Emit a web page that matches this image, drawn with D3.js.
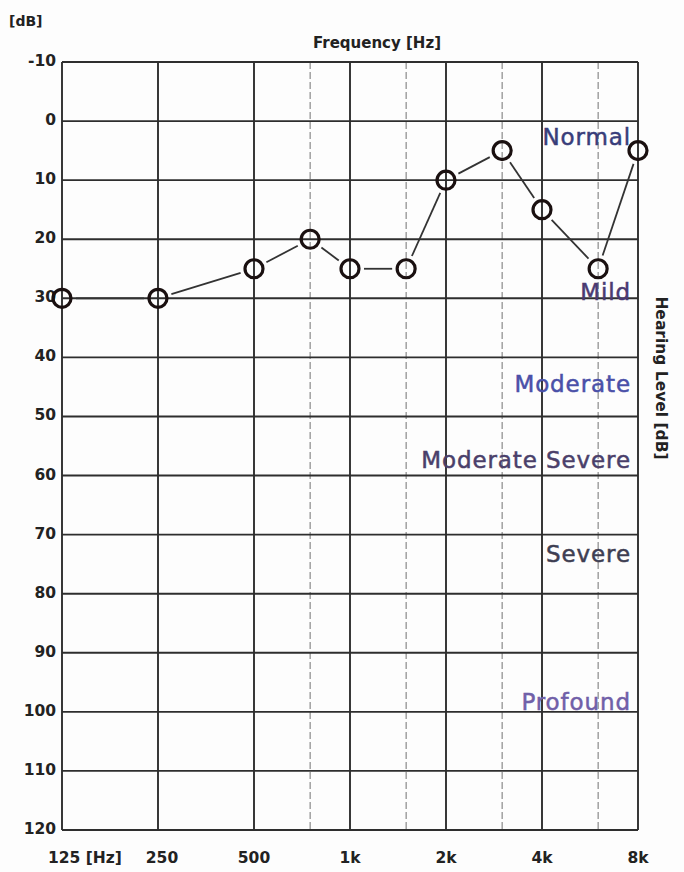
<!DOCTYPE html>
<html>
<head>
<meta charset="utf-8">
<script src="https://cdn.jsdelivr.net/npm/d3@7"></script>
<style>
  html, body { margin: 0; padding: 0; background: #fdfdfd; }
  svg { display: block; }
</style>
</head>
<body>
<svg id="chart" width="684" height="872"></svg>
<script>
// ---- data ----
const freqs = [125, 250, 500, 750, 1000, 1500, 2000, 3000, 4000, 6000, 8000];
const levels = [30, 30, 25, 20, 25, 25, 10, 5, 15, 25, 5];
const majorFreqs = [125, 250, 500, 1000, 2000, 4000, 8000];
const minorFreqs = [750, 1500, 3000, 6000];
const freqLabels = ["125 [Hz]", "250", "500", "1k", "2k", "4k", "8k"];
const dbTicks = [-10, 0, 10, 20, 30, 40, 50, 60, 70, 80, 90, 100, 110, 120];
const categories = ["Normal", "Mild", "Moderate", "Moderate Severe", "Severe", "Profound"];
const categoryLevels = [4, 30.3, 45.9, 58.7, 74.6, 99.7];
const categoryColors = ["#383d7a", "#4a3a72", "#4a50a8", "#4a3f6a", "#3e3e52", "#7060a8"];

// ---- layout ----
const svg = d3.select("#chart");
const pLeft = 62, pRight = 638, pTop = 62, pBottom = 830;
const tickFont = "DejaVu Sans, Verdana, sans-serif";

const x = d3.scaleLog().base(2).domain([125, 8000]).range([pLeft, pRight]);
const y = d3.scaleLinear().domain([-10, 120]).range([pTop, pBottom]);

// minor vertical grid
svg.append("g").selectAll("line").data(minorFreqs).join("line")
  .attr("x1", d => x(d)).attr("x2", d => x(d))
  .attr("y1", pTop).attr("y2", pBottom)
  .attr("stroke", "#8a8a8a").attr("stroke-width", 1.2)
  .attr("stroke-dasharray", "7,3");

// horizontal grid
svg.append("g").selectAll("line").data(dbTicks).join("line")
  .attr("x1", pLeft).attr("x2", pRight)
  .attr("y1", d => y(d)).attr("y2", d => y(d))
  .attr("stroke", "#2e2e2e").attr("stroke-width", 1.9);

// major vertical grid
svg.append("g").selectAll("line").data(majorFreqs).join("line")
  .attr("x1", d => x(d)).attr("x2", d => x(d))
  .attr("y1", pTop).attr("y2", pBottom)
  .attr("stroke", "#2e2e2e").attr("stroke-width", 1.9);

// y tick labels
svg.append("g").selectAll("text").data(dbTicks).join("text")
  .attr("x", 56).attr("y", d => y(d) + 4)
  .attr("text-anchor", "end")
  .attr("font-family", tickFont)
  .attr("font-weight", "bold").attr("font-size", 15.5)
  .attr("fill", "#222")
  .text(d => d);

// x tick labels
svg.append("g").selectAll("text").data(majorFreqs).join("text")
  .attr("x", (d, i) => i === 0 ? x(d) - 14 : x(d) + (i === 1 ? 4 : 0))
  .attr("y", 863)
  .attr("text-anchor", (d, i) => i === 0 ? "start" : "middle")
  .attr("font-family", tickFont)
  .attr("font-weight", "bold").attr("font-size", 15.5)
  .attr("fill", "#222")
  .text((d, i) => freqLabels[i]);

// titles
svg.append("text").attr("x", 9).attr("y", 26)
  .attr("font-family", tickFont)
  .attr("font-weight", "bold").attr("font-size", 14).attr("fill", "#222")
  .text("[dB]");
svg.append("text").attr("x", 377).attr("y", 48)
  .attr("text-anchor", "middle")
  .attr("font-family", tickFont)
  .attr("font-weight", "bold").attr("font-size", 15).attr("fill", "#222")
  .text("Frequency [Hz]");
svg.append("text")
  .attr("transform", "translate(656,378) rotate(90)")
  .attr("text-anchor", "middle")
  .attr("font-family", tickFont)
  .attr("font-weight", "bold").attr("font-size", 15.5).attr("fill", "#222")
  .text("Hearing Level [dB]");

// category labels
svg.append("g").selectAll("text").data(categories).join("text")
  .attr("x", 631)
  .attr("y", (d, i) => y(categoryLevels[i]))
  .attr("text-anchor", "end")
  .attr("font-family", "DejaVu Sans, Verdana, sans-serif")
  .attr("font-size", 23)
  .attr("letter-spacing", 0.9)
  .attr("fill", (d, i) => categoryColors[i])
  .attr("stroke", (d, i) => categoryColors[i])
  .attr("stroke-width", 0.5)
  .text(d => d);

// connecting segments with gaps at circles
const pts = freqs.map((f, i) => [x(f), y(levels[i])]);
const r = 9, gap = 14;
const segs = d3.pairs(pts).map(([a, b]) => {
  const dx = b[0] - a[0], dy = b[1] - a[1];
  const L = Math.hypot(dx, dy);
  const ux = dx / L, uy = dy / L;
  return [a[0] + ux * gap, a[1] + uy * gap, b[0] - ux * gap, b[1] - uy * gap];
});
svg.append("g").selectAll("line").data(segs).join("line")
  .attr("x1", d => d[0]).attr("y1", d => d[1])
  .attr("x2", d => d[2]).attr("y2", d => d[3])
  .attr("stroke", "#333").attr("stroke-width", 1.8);

// circles
svg.append("g").selectAll("circle").data(freqs).join("circle")
  .attr("cx", d => x(d))
  .attr("cy", (d, i) => y(levels[i]))
  .attr("r", r)
  .attr("fill", "none")
  .attr("stroke", "#1a1010").attr("stroke-width", 3.2);
</script>
</body>
</html>
